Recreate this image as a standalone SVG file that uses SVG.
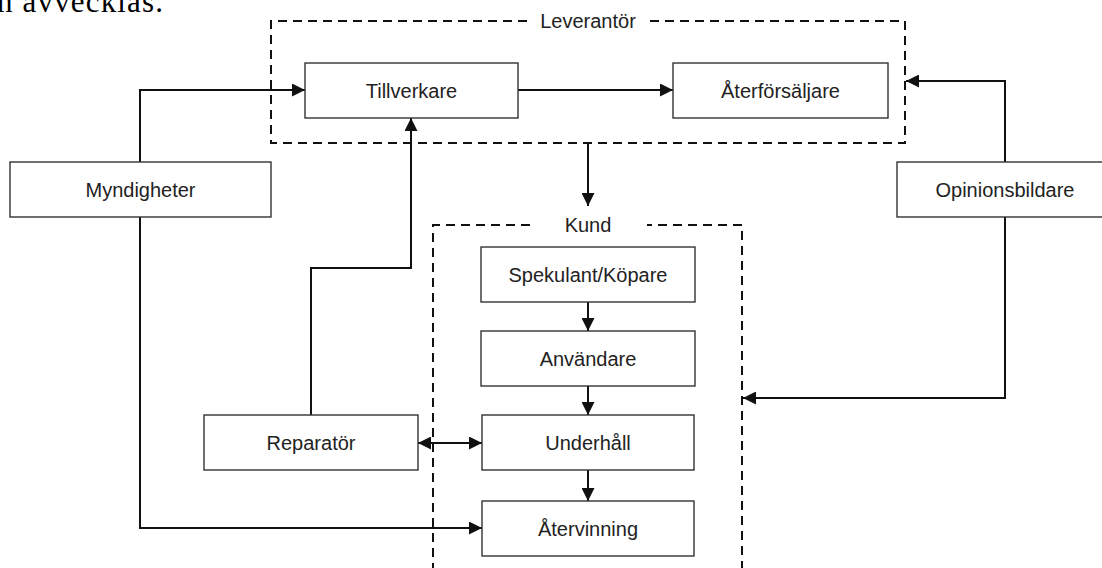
<svg xmlns="http://www.w3.org/2000/svg" width="1102" height="568" viewBox="0 0 1102 568">
  <style>
    .box { fill: #fff; stroke: #333; stroke-width: 1.4; }
    .lbl { font-family: "Liberation Sans", Arial, sans-serif; font-size: 20px; fill: #222; text-anchor: middle; }
    .grp { fill: none; stroke: #111; stroke-width: 2; stroke-dasharray: 9 6; }
    .edge { fill: none; stroke: #111; stroke-width: 2; }
    .head { marker-end: url(#arrow); }
  </style>
  <defs>
    <marker id="arrow" viewBox="0 0 10 10" refX="10" refY="5" markerWidth="6.5" markerHeight="6.5" markerUnits="strokeWidth" orient="auto-start-reverse">
      <path d="M0,0 L10,5 L0,10 z" fill="#111"/>
    </marker>
  </defs>
  <rect width="1102" height="568" fill="#fff"/>

  <!-- trailing line of the surrounding paragraph -->
  <text x="-3" y="12" font-family="Liberation Serif, Times New Roman, serif" font-size="31" textLength="166" lengthAdjust="spacing" fill="#000">n avvecklas.</text>

  <!-- group frames -->
  <g id="leverantor">
    <path class="grp" d="M527,21 H271 V143 H905 V21 H648"/>
    <text class="lbl" x="588" y="28">Leverantör</text>
  </g>
  <g id="kund">
    <path class="grp" d="M530,225 H433 V570 M742,570 V225 H647"/>
    <text class="lbl" x="588" y="232">Kund</text>
  </g>

  <!-- connectors -->
  <g id="connectors">
    <path class="edge head" d="M518,90 H673"/>
    <path class="edge head" d="M140,162 V90 H305"/>
    <path class="edge head" d="M140,217 V528 H482"/>
    <path class="edge head" d="M1005,162 V81 H906"/>
    <path class="edge head" d="M1005,217 V398 H743"/>
    <path class="edge head" d="M588,143 V206"/>
    <path class="edge head" d="M311,415 V268 H411 V118"/>
    <path class="edge head" d="M588,302 V331"/>
    <path class="edge head" d="M588,386 V415"/>
    <path class="edge head" d="M588,470 V501"/>
    <path class="edge" d="M418,443 H482" marker-start="url(#arrow)" marker-end="url(#arrow)"/>
  </g>

  <!-- nodes -->
  <g id="tillverkare">
    <rect class="box" x="305" y="63" width="213" height="55"/>
    <text class="lbl" x="411.5" y="98">Tillverkare</text>
  </g>
  <g id="aterforsaljare">
    <rect class="box" x="673" y="63" width="215" height="55"/>
    <text class="lbl" x="780.5" y="98">Återförsäljare</text>
  </g>
  <g id="myndigheter">
    <rect class="box" x="10" y="162" width="261" height="55"/>
    <text class="lbl" x="140.5" y="197">Myndigheter</text>
  </g>
  <g id="opinionsbildare">
    <rect class="box" x="897" y="162" width="210" height="55"/>
    <text class="lbl" x="1005" y="197">Opinionsbildare</text>
  </g>
  <g id="spekulant">
    <rect class="box" x="481" y="247" width="214" height="55"/>
    <text class="lbl" x="588" y="282">Spekulant/Köpare</text>
  </g>
  <g id="anvandare">
    <rect class="box" x="481" y="331" width="214" height="55"/>
    <text class="lbl" x="588" y="366">Användare</text>
  </g>
  <g id="underhall">
    <rect class="box" x="482" y="415" width="212" height="55"/>
    <text class="lbl" x="588" y="450">Underhåll</text>
  </g>
  <g id="atervinning">
    <rect class="box" x="482" y="501" width="212" height="55"/>
    <text class="lbl" x="588" y="536">Återvinning</text>
  </g>
  <g id="reparator">
    <rect class="box" x="204" y="415" width="214" height="55"/>
    <text class="lbl" x="311" y="450">Reparatör</text>
  </g>
</svg>
